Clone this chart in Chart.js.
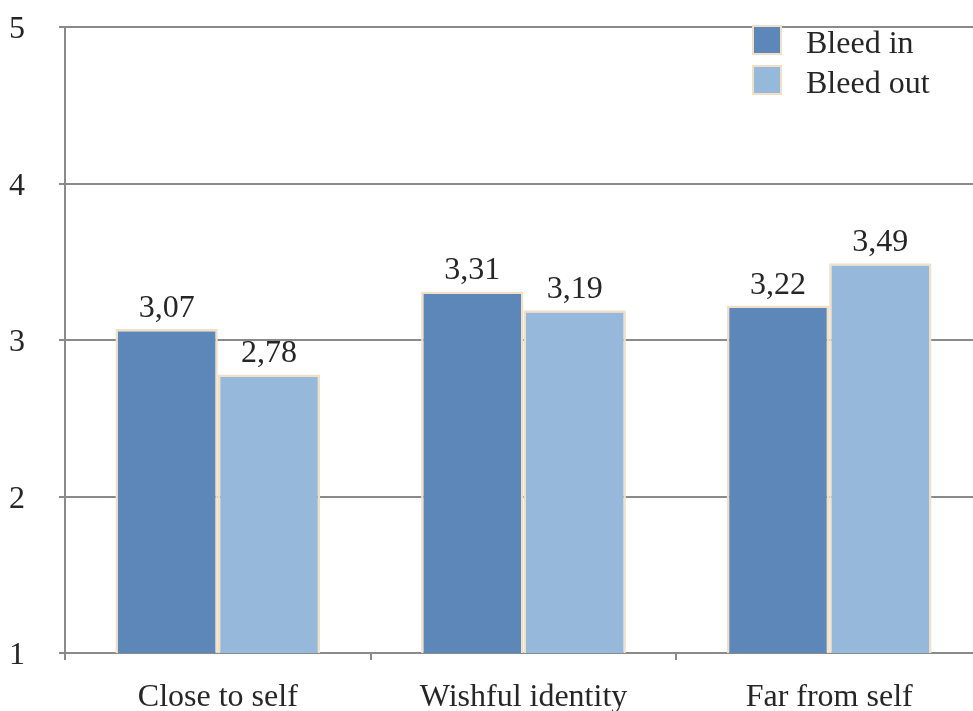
<!DOCTYPE html>
<html>
<head>
<meta charset="utf-8">
<script src="https://cdn.jsdelivr.net/npm/chart.js@4/dist/chart.umd.min.js"></script>
<style>
  html, body { margin: 0; padding: 0; background: #fff; overflow: hidden; }
  #wrap { position: relative; width: 982px; height: 711px; }
</style>
</head>
<body>
<div id="wrap"><canvas id="c"></canvas></div>
<script>
// Mean bleed ratings per character type
const categories = ['Close to self', 'Wishful identity', 'Far from self'];
const bleedIn = [3.07, 3.31, 3.22];
const bleedOut = [2.78, 3.19, 3.49];
const seriesNames = ['Bleed in', 'Bleed out'];
const yTicks = [1, 2, 3, 4, 5];

const FONT = '"Liberation Serif", "Times New Roman", serif';
const TEXT = '#262626';
const EDGE = '#F2E0C6';
const AXIS = '#8a8a8a';

// Value labels above each bar, decimal comma
const valueLabels = {
  id: 'valueLabels',
  afterDatasetsDraw(chart) {
    const ctx = chart.ctx;
    ctx.save();
    ctx.font = '32px ' + FONT;
    ctx.fillStyle = TEXT;
    ctx.textAlign = 'center';
    ctx.textBaseline = 'alphabetic';
    chart.data.datasets.forEach((ds, i) => {
      chart.getDatasetMeta(i).data.forEach((bar, j) => {
        const txt = ds.data[j].toFixed(2).replace('.', ',');
        ctx.fillText(txt, bar.x, bar.y - 12);
      });
    });
    ctx.restore();
  }
};

// Boxed legend in the upper right
const boxLegend = {
  id: 'boxLegend',
  afterDraw(chart) {
    const ctx = chart.ctx;
    ctx.save();
    ctx.font = '32px ' + FONT;
    ctx.textBaseline = 'alphabetic';
    chart.data.datasets.forEach((ds, i) => {
      const y = 25 + i * 40;
      ctx.fillStyle = EDGE;
      ctx.fillRect(752, y, 30, 30);
      ctx.fillStyle = ds.backgroundColor;
      ctx.fillRect(754, y + 2, 26, 26);
      ctx.fillStyle = TEXT;
      ctx.fillText(ds.label, 806, y + 28);
    });
    ctx.restore();
  }
};

new Chart(document.getElementById('c'), {
  type: 'bar',
  data: {
    labels: categories,
    datasets: [
      { label: seriesNames[0], data: bleedIn, backgroundColor: '#5D86B9',
        borderColor: EDGE, borderWidth: 2.5, categoryPercentage: 0.67, barPercentage: 1.0 },
      { label: seriesNames[1], data: bleedOut, backgroundColor: '#95B8DB',
        borderColor: EDGE, borderWidth: 2.5, categoryPercentage: 0.67, barPercentage: 1.0 }
    ]
  },
  options: {
    responsive: true,
    maintainAspectRatio: false,
    animation: false,
    layout: { padding: { top: 27, right: 0, left: 0, bottom: 0 } },
    plugins: { legend: { display: false }, tooltip: { enabled: false } },
    scales: {
      x: {
        offset: true,
        grid: { display: true, drawOnChartArea: false, drawTicks: true, tickLength: 7,
                color: AXIS, lineWidth: 2, offset: true },
        border: { display: true, color: AXIS, width: 2 },
        ticks: { color: TEXT, font: { family: FONT, size: 32 }, padding: 18, maxRotation: 0 },
        afterFit(scale) { scale.height = 58; }
      },
      y: {
        min: 1, max: 5,
        afterBuildTicks(scale) { scale.ticks = yTicks.map(v => ({ value: v })); },
        grid: { color: AXIS, lineWidth: 2, drawTicks: true, tickLength: 6 },
        border: { display: true, color: AXIS, width: 2 },
        ticks: { color: TEXT, font: { family: FONT, size: 32 }, padding: 34, labelOffset: 3 },
        afterFit(scale) {
          scale.width = 65;
          scale.paddingTop = 0;
          scale.paddingBottom = 0;
        }
      }
    }
  },
  plugins: [valueLabels, boxLegend]
});
</script>
</body>
</html>
